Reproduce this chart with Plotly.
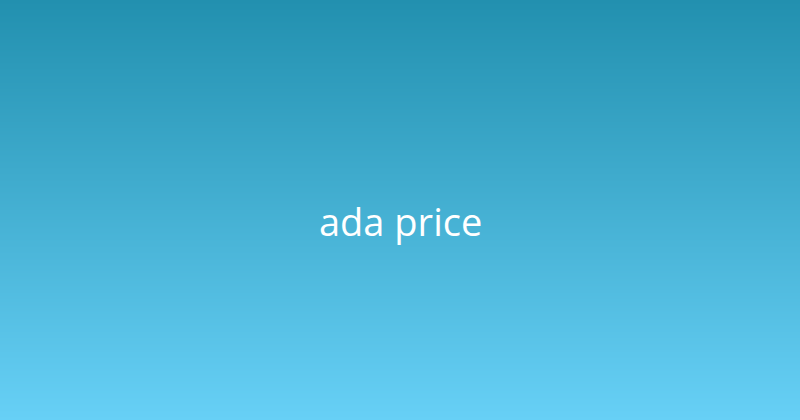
import plotly.graph_objects as go

title_text = "ada price"
gradient_stops = [0.0, 1.0]
gradient_colors = ["#67D0F6", "#2290AF"]  # bottom, top

fig = go.Figure()
fig.add_trace(go.Heatmap(
    z=[[0, 0], [1, 1]],
    x=[0, 1],
    y=[0, 1],
    colorscale=[[gradient_stops[0], gradient_colors[0]], [gradient_stops[1], gradient_colors[1]]],
    zsmooth="best",
    showscale=False,
    hoverinfo="skip",
))
fig.add_annotation(
    x=0.5, y=0.5, xref="paper", yref="paper",
    text=title_text, showarrow=False, yshift=-11,
    font=dict(family="Open Sans", size=38, color="white"),
)
fig.update_xaxes(visible=False, range=[0, 1], fixedrange=True)
fig.update_yaxes(visible=False, range=[0, 1], fixedrange=True)
fig.update_layout(
    width=800, height=420,
    margin=dict(l=0, r=0, t=0, b=0),
    paper_bgcolor="#44AFD3",
    plot_bgcolor="#44AFD3",
)
fig.write_html(
    "out.html",
    config={"displayModeBar": False},
    post_script="document.body.style.margin='0';document.body.style.overflow='hidden';",
)
